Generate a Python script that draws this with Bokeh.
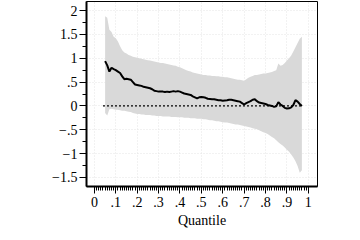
from bokeh.plotting import figure
from bokeh.models import FixedTicker, Range1d
from bokeh.embed import file_html
from bokeh.resources import INLINE
from bokeh.core.properties import value

quantile = [0.05, 0.06, 0.07, 0.08, 0.09, 0.10, 0.11, 0.12, 0.13, 0.14,
            0.15, 0.16, 0.17, 0.18, 0.19, 0.20, 0.21, 0.22, 0.23, 0.24,
            0.25, 0.26, 0.27, 0.28, 0.29, 0.30, 0.31, 0.32, 0.33, 0.34,
            0.35, 0.36, 0.37, 0.38, 0.39, 0.40, 0.41, 0.42, 0.43, 0.44,
            0.45, 0.46, 0.47, 0.48, 0.49, 0.50, 0.51, 0.52, 0.53, 0.54,
            0.55, 0.56, 0.57, 0.58, 0.59, 0.60, 0.61, 0.62, 0.63, 0.64,
            0.65, 0.66, 0.67, 0.68, 0.69, 0.70, 0.71, 0.72, 0.73, 0.74,
            0.75, 0.76, 0.77, 0.78, 0.79, 0.80, 0.81, 0.82, 0.83, 0.84,
            0.85, 0.86, 0.87, 0.88, 0.89, 0.90, 0.91, 0.92, 0.93, 0.94,
            0.95, 0.96, 0.97]

coef = [0.94, 0.85, 0.72, 0.80, 0.77, 0.75, 0.72, 0.69, 0.62, 0.56,
        0.57, 0.56, 0.55, 0.50, 0.45, 0.44, 0.43, 0.42, 0.40, 0.39,
        0.38, 0.37, 0.35, 0.32, 0.31, 0.30, 0.30, 0.30, 0.29, 0.30,
        0.29, 0.30, 0.31, 0.30, 0.31, 0.30, 0.28, 0.26, 0.25, 0.24,
        0.23, 0.20, 0.18, 0.16, 0.18, 0.185, 0.18, 0.17, 0.15, 0.145,
        0.14, 0.14, 0.13, 0.12, 0.12, 0.11, 0.115, 0.12, 0.13, 0.13,
        0.12, 0.11, 0.10, 0.09, 0.06, 0.03, 0.06, 0.08, 0.10, 0.13,
        0.14, 0.10, 0.07, 0.06, 0.05, 0.04, 0.02, 0.01, 0.00, -0.02,
        -0.01, 0.08, 0.03, 0.00, -0.04, -0.055, -0.05, -0.03, 0.02, 0.12,
        0.09, 0.04, 0.00]

upper = [1.88, 1.85, 1.60, 1.55, 1.45, 1.42, 1.35, 1.25, 1.17, 1.12,
         1.10, 1.07, 1.05, 1.03, 1.02, 1.01, 1.00, 0.99, 0.98, 0.97,
         0.96, 0.95, 0.94, 0.93, 0.92, 0.91, 0.90, 0.90, 0.89, 0.88,
         0.87, 0.86, 0.85, 0.84, 0.82, 0.81, 0.79, 0.77, 0.75, 0.73,
         0.72, 0.70, 0.69, 0.68, 0.67, 0.66, 0.65, 0.65, 0.64, 0.64,
         0.63, 0.63, 0.62, 0.62, 0.61, 0.61, 0.60, 0.60, 0.59, 0.58,
         0.57, 0.56, 0.55, 0.55, 0.54, 0.53, 0.56, 0.59, 0.61, 0.63,
         0.65, 0.65, 0.66, 0.67, 0.68, 0.68, 0.69, 0.70, 0.71, 0.73,
         0.75, 0.89, 0.84, 0.86, 0.90, 0.95, 1.00, 1.06, 1.14, 1.23,
         1.32, 1.41, 1.45]

lower = [-0.15, -0.20, -0.07, -0.06, -0.07, -0.08, -0.08, -0.09, -0.10, -0.10,
         -0.11, -0.12, -0.13, -0.15, -0.16, -0.17, -0.17, -0.18, -0.18, -0.19,
         -0.19, -0.19, -0.20, -0.20, -0.21, -0.21, -0.21, -0.22, -0.22, -0.22,
         -0.22, -0.23, -0.23, -0.23, -0.24, -0.24, -0.24, -0.25, -0.25, -0.25,
         -0.26, -0.26, -0.26, -0.27, -0.27, -0.27, -0.28, -0.28, -0.29, -0.30,
         -0.30, -0.31, -0.32, -0.32, -0.33, -0.34, -0.35, -0.35, -0.36, -0.37,
         -0.38, -0.39, -0.39, -0.40, -0.41, -0.42, -0.43, -0.44, -0.45, -0.47,
         -0.48, -0.49, -0.51, -0.53, -0.55, -0.57, -0.59, -0.62, -0.65, -0.68,
         -0.72, -0.76, -0.80, -0.83, -0.87, -0.92, -0.96, -1.02, -1.08, -1.16,
         -1.26, -1.40, -1.35]

zero_x = [0.04, 0.97]
zero_y = [0.0, 0.0]

x_ticks = [0, 0.1, 0.2, 0.3, 0.4, 0.5, 0.6, 0.7, 0.8, 0.9, 1]
x_tick_labels = ["0", ".1", ".2", ".3", ".4", ".5", ".6", ".7", ".8", ".9", "1"]
y_ticks = [-1.5, -1, -0.5, 0, 0.5, 1, 1.5, 2]
y_tick_labels = ["\u22121.5", "\u22121", "\u2212.5", "0", ".5", "1", "1.5", "2"]
x_minor = [i / 100 for i in range(0, 101)]
y_minor = [-1.75, -1.25, -0.75, -0.25, 0.25, 0.75, 1.25, 1.75]

FONT = "Liberation Serif"

p = figure(width=344, height=230, output_backend="svg", toolbar_location=None,
           x_range=Range1d(-0.037, 1.043), y_range=Range1d(-1.69, 2.19),
           min_border_left=86, min_border_right=27, min_border_top=1,
           min_border_bottom=41)
p.background_fill_color = "white"
p.border_fill_color = "white"
p.outline_line_color = "black"
p.outline_line_width = 1

p.varea(x=quantile, y1=lower, y2=upper, fill_color="#d9d9d9", fill_alpha=1.0)
p.line(x=zero_x, y=zero_y, line_color="black", line_width=1.3, line_dash="2 2")
p.line(x=quantile, y=coef, line_color="black", line_width=2)

p.xaxis.ticker = FixedTicker(ticks=x_ticks, minor_ticks=x_minor)
p.yaxis.ticker = FixedTicker(ticks=y_ticks, minor_ticks=y_minor)
p.xaxis.major_label_overrides = dict(zip(x_ticks, x_tick_labels))
p.yaxis.major_label_overrides = dict(zip(y_ticks, y_tick_labels))

for ax in (p.xaxis, p.yaxis):
    ax.axis_line_color = "black"
    ax.axis_line_width = 2
    ax.major_tick_line_color = "black"
    ax.minor_tick_line_color = "black"
    ax.major_tick_in = 0
    ax.major_tick_out = 7
    ax.minor_tick_in = 0
    ax.minor_tick_out = 4
    ax.major_label_text_font = FONT
    ax.major_label_text_font_size = "14px"
    ax.major_label_text_color = "black"

p.yaxis.major_label_standoff = 2
p.xaxis.major_label_standoff = 3
p.xaxis.axis_label = "Quantile"
p.xaxis.axis_label_text_font = FONT
p.xaxis.axis_label_text_font_size = "14px"
p.xaxis.axis_label_text_font_style = "normal"
p.xaxis.axis_label_text_color = "black"
p.xaxis.axis_label_standoff = 3

p.grid.grid_line_color = "#e4e4e4"
p.grid.grid_line_dash = "1 2"
p.grid.grid_line_width = 1

open("out.html", "w").write(file_html(p, INLINE))
